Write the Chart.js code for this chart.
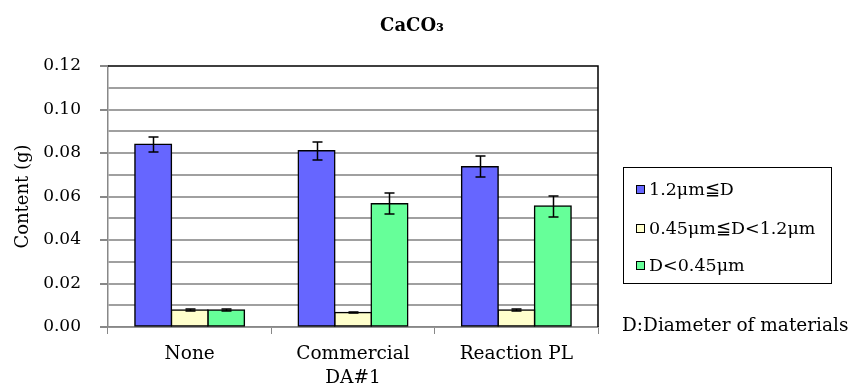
<!DOCTYPE html>
<html><head><meta charset="utf-8">
<script src="https://cdn.jsdelivr.net/npm/chart.js@4.4.1/dist/chart.umd.min.js"></script>
<style>html,body{margin:0;padding:0;background:#fff;}canvas{display:block;}</style>
</head><body>
<canvas id="c" width="854" height="390"></canvas>
<script>
const categories = [["None"], ["Commercial", "DA#1"], ["Reaction PL"]];
const seriesNames = ["1.2μm≦D", "0.45μm≦D<1.2μm", "D<0.45μm"];
const largeVals = [0.084, 0.081, 0.0737];
const largeErr = [0.0035, 0.0041, 0.0048];
const midVals = [0.0078, 0.0066, 0.0078];
const midErr = [0.0003, 0.0003, 0.0003];
const smallVals = [0.0078, 0.0567, 0.0556];
const smallErr = [0.0003, 0.0049, 0.0048];
const yTickValues = [0, 0.02, 0.04, 0.06, 0.08, 0.10, 0.12];
const titleText = "CaCO₃";
const yTitle = "Content (g)";
const noteText = "D:Diameter of materials";

const colors = ["#6666FF", "#FFFFCC", "#66FF99"];
const FONT = "'DejaVu Serif', 'Liberation Serif', serif";
const errs = [largeErr, midErr, smallErr];

const extras = {
  id: 'extras',
  afterDatasetsDraw(chart) {
    const ctx = chart.ctx, y = chart.scales.y;
    ctx.save();
    ctx.strokeStyle = '#000'; ctx.lineWidth = 1.5;
    chart.data.datasets.forEach((ds, di) => {
      const meta = chart.getDatasetMeta(di);
      meta.data.forEach((bar, i) => {
        const v = ds.data[i], e = errs[di][i];
        const yt = Math.round(y.getPixelForValue(v + e)), yb = Math.round(y.getPixelForValue(v - e));
        const x = Math.round(bar.x) + 0.5;
        ctx.beginPath();
        ctx.moveTo(x, yt); ctx.lineTo(x, yb);
        ctx.moveTo(x - 5, yt); ctx.lineTo(x + 5, yt);
        ctx.moveTo(x - 5, yb); ctx.lineTo(x + 5, yb);
        ctx.stroke();
      });
    });
    ctx.restore();
  },
  afterDraw(chart) {
    const ctx = chart.ctx, a = chart.chartArea;
    ctx.save();
    ctx.strokeStyle = '#000'; ctx.lineWidth = 1.5;
    ctx.beginPath();
    ctx.moveTo(a.left, a.top); ctx.lineTo(a.right, a.top); ctx.lineTo(a.right, a.bottom);
    ctx.stroke();
    ctx.fillStyle = '#000';
    ctx.font = "bold 18px " + FONT;
    ctx.textAlign = 'center'; ctx.textBaseline = 'middle';
    ctx.fillText(titleText, 412, 26);
    ctx.lineWidth = 1;
    ctx.strokeStyle = '#000';
    ctx.strokeRect(623.5, 167.5, 208, 116);
    ctx.font = "17.5px " + FONT;
    ctx.textAlign = 'left';
    const ys = [190, 229, 266];
    seriesNames.forEach((n, i) => {
      ctx.fillStyle = colors[i];
      ctx.fillRect(636, ys[i] - 5, 9, 9);
      ctx.strokeStyle = '#000';
      ctx.strokeRect(636.5, ys[i] - 4.5, 8, 8);
      ctx.fillStyle = '#000';
      ctx.fillText(n, 649, ys[i]);
    });
    ctx.font = "18.5px " + FONT;
    ctx.fillText(noteText, 622, 326);
    ctx.restore();
  }
};

new Chart(document.getElementById('c'), {
  type: 'bar',
  data: {
    labels: categories,
    datasets: [
      { label: seriesNames[0], data: largeVals, backgroundColor: colors[0] },
      { label: seriesNames[1], data: midVals, backgroundColor: colors[1] },
      { label: seriesNames[2], data: smallVals, backgroundColor: colors[2] }
    ].map(d => Object.assign(d, { borderColor: '#000', borderWidth: 1.5, borderSkipped: false, inflateAmount: 0.8, categoryPercentage: 0.67, barPercentage: 1.0 }))
  },
  options: {
    responsive: false,
    animation: false,
    devicePixelRatio: 1,
    layout: { padding: { top: 66, right: 256, left: 0, bottom: 0 } },
    plugins: { legend: { display: false }, title: { display: false }, tooltip: { enabled: false } },
    scales: {
      x: {
        offset: true,
        grid: { offset: true, drawOnChartArea: false, drawTicks: true, tickLength: 7, color: '#888', lineWidth: 1 },
        border: { display: true, color: '#888', width: 1.5 },
        ticks: { color: '#000', font: { family: FONT, size: 18.5, lineHeight: 1.25 }, padding: 9, maxRotation: 0, autoSkip: false },
        afterFit(s) { s.height = 63; }
      },
      y: {
        min: 0, max: 0.12,
        grid: {
          color: (c) => c.tick && Math.abs(c.tick.value - 0.12) < 1e-9 ? 'rgba(0,0,0,0)' : '#a0a0a0',
          lineWidth: 2,
          tickLength: 8,
          tickColor: (c) => (c.tick && yTickValues.some(v => Math.abs(v - c.tick.value) < 1e-9)) ? '#888' : 'rgba(0,0,0,0)',
          drawTicks: true
        },
        border: { display: true, color: '#888', width: 1.5 },
        ticks: {
          stepSize: 0.01,
          color: '#000',
          font: { family: FONT, size: 17 },
          padding: 19,
          autoSkip: false,
          callback: (v) => yTickValues.some(t => Math.abs(t - v) < 1e-9) ? v.toFixed(2) : ''
        },
        title: { display: true, text: yTitle, color: '#000', font: { family: FONT, size: 18 }, padding: { top: 13, bottom: 0 } },
        afterFit(s) { s.width = 108; }
      }
    }
  },
  plugins: [extras]
});
</script>
</body></html>
